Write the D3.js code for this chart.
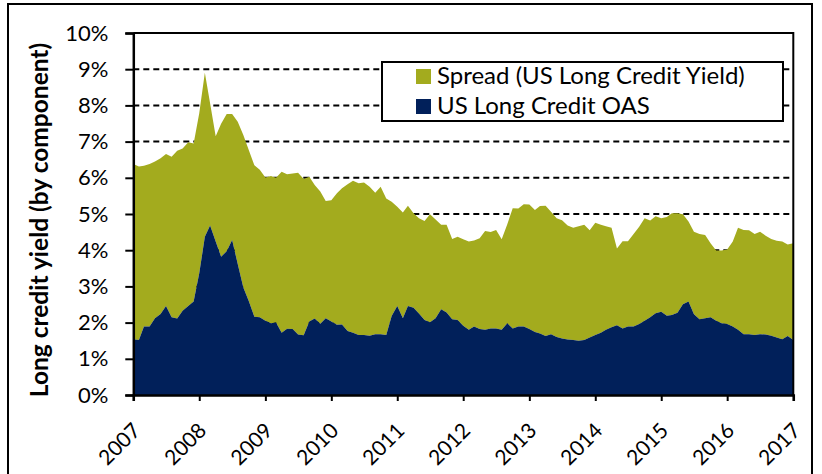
<!DOCTYPE html>
<html>
<head>
<meta charset="utf-8">
<script src="https://cdn.jsdelivr.net/npm/d3@7"></script>
<style>
  body { margin: 0; background: #fff; }
  svg { display: block; }
  text { font-family: Lato, "Open Sans", sans-serif; fill: #000; }
</style>
</head>
<body>
<svg id="chart" width="822" height="474"></svg>
<script>
// Monthly observations, January 2007 through January 2017 (percent)
const startDate = new Date(Date.UTC(2007, 0, 1));
const longCreditYield = [
  6.38, 6.31, 6.33, 6.38, 6.45, 6.54, 6.66, 6.58, 6.75, 6.81, 6.98, 6.95,
  7.78, 8.90, 8.06, 7.15, 7.49, 7.76, 7.76, 7.55, 7.18, 6.77, 6.35, 6.22,
  6.01, 6.05, 6.00, 6.17, 6.10, 6.12, 6.14, 5.97, 6.03, 5.80, 5.62, 5.36,
  5.38, 5.57, 5.71, 5.82, 5.92, 5.85, 5.87, 5.75, 5.59, 5.75, 5.43, 5.34,
  5.20, 5.04, 5.23, 5.02, 4.88, 4.81, 4.99, 4.85, 4.70, 4.70, 4.31, 4.37,
  4.30, 4.24, 4.27, 4.33, 4.53, 4.50, 4.56, 4.30, 4.72, 5.16, 5.15, 5.27,
  5.26, 5.11, 5.22, 5.23, 5.06, 4.88, 4.83, 4.68, 4.62, 4.66, 4.70, 4.55,
  4.76, 4.70, 4.66, 4.62, 4.05, 4.25, 4.25, 4.45, 4.65, 4.88, 4.82, 4.94,
  4.88, 4.92, 5.02, 5.02, 4.99, 4.79, 4.51, 4.45, 4.42, 4.19, 3.99, 3.99,
  4.02, 4.24, 4.62, 4.56, 4.55, 4.45, 4.51, 4.40, 4.31, 4.26, 4.24, 4.16,
  4.19
];
const longCreditOAS = [
  1.54, 1.52, 1.89, 1.89, 2.12, 2.24, 2.46, 2.15, 2.11, 2.33, 2.46, 2.58,
  3.36, 4.37, 4.68, 4.24, 3.82, 3.97, 4.28, 3.62, 2.97, 2.60, 2.16, 2.15,
  2.05, 1.98, 2.00, 1.72, 1.83, 1.82, 1.67, 1.65, 2.03, 2.11, 1.97, 2.12,
  2.03, 1.94, 1.95, 1.77, 1.72, 1.66, 1.66, 1.64, 1.68, 1.68, 1.66, 2.18,
  2.46, 2.12, 2.46, 2.41, 2.25, 2.07, 2.01, 2.12, 2.37, 2.28, 2.09, 2.07,
  1.91, 1.80, 1.89, 1.82, 1.80, 1.84, 1.84, 1.80, 1.98, 1.84, 1.89, 1.89,
  1.82, 1.74, 1.70, 1.63, 1.68, 1.60, 1.56, 1.53, 1.52, 1.50, 1.52, 1.59,
  1.66, 1.72, 1.80, 1.87, 1.93, 1.84, 1.89, 1.89, 1.96, 2.05, 2.15, 2.26,
  2.30, 2.19, 2.21, 2.27, 2.51, 2.58, 2.23, 2.09, 2.12, 2.15, 2.05, 1.98,
  1.96, 1.89, 1.80, 1.68, 1.68, 1.66, 1.68, 1.67, 1.64, 1.59, 1.54, 1.63,
  1.52
];
const yearTicks = [2007, 2008, 2009, 2010, 2011, 2012, 2013, 2014, 2015, 2016, 2017];
const percentTicks = [0, 1, 2, 3, 4, 5, 6, 7, 8, 9, 10];
const gridTicks = [1, 2, 3, 4, 5, 6, 7, 8, 9];
const seriesLabels = ["Spread (US Long Credit Yield)", "US Long Credit OAS"];
const axisTitle = "Long credit yield (by component)";

const GREEN = "#a3ab1e";
const NAVY = "#01205a";

const svg = d3.select("#chart");
const plot = { left: 133.3, right: 793.3, top: 33, bottom: 395 };

const rows = longCreditYield.map((v, i) => ({
  date: d3.utcMonth.offset(startDate, i),
  total: v,
  oas: longCreditOAS[i]
}));

const x = d3.scaleUtc()
  .domain([Date.UTC(2007, 0, 1), Date.UTC(2017, 0, 1)])
  .range([plot.left, plot.right]);
const y = d3.scaleLinear().domain([0, 10]).range([plot.bottom, plot.top]);

// outer frame
svg.append("rect")
  .attr("x", 8).attr("y", 4).attr("width", 804).attr("height", 480)
  .attr("fill", "none").attr("stroke", "#000").attr("stroke-width", 2);

// dashed gridlines, drawn beneath the areas
svg.append("g")
  .selectAll("line").data(gridTicks).join("line")
  .attr("x1", plot.left).attr("x2", plot.right)
  .attr("y1", d => y(d)).attr("y2", d => y(d))
  .attr("stroke", "#000").attr("stroke-width", 2)
  .attr("stroke-dasharray", "6,4");

// stacked areas: OAS at the base, remainder of the yield above it
const areaOAS = d3.area()
  .x(d => x(d.date)).y0(y(0)).y1(d => y(d.oas));
const areaSpread = d3.area()
  .x(d => x(d.date)).y0(d => y(d.oas)).y1(d => y(d.total));

svg.append("path").datum(rows).attr("d", areaSpread).attr("fill", GREEN);
svg.append("path").datum(rows).attr("d", areaOAS).attr("fill", NAVY);

// plot border (top and right)
svg.append("path")
  .attr("d", `M${plot.left},${plot.top}H${plot.right}V${plot.bottom}`)
  .attr("fill", "none").attr("stroke", "#000").attr("stroke-width", 2);

// y axis
const yAxis = svg.append("g")
  .attr("transform", `translate(${plot.left},0)`)
  .call(d3.axisLeft(y).tickValues(percentTicks).tickSize(8).tickPadding(17)
    .tickFormat(d => d + "%"));
yAxis.select(".domain").attr("stroke", "#000").attr("stroke-width", 2.5);
yAxis.selectAll(".tick line").attr("stroke", "#000").attr("stroke-width", 2);
yAxis.selectAll(".tick text")
  .style("font-family", "Lato, sans-serif").attr("font-size", 22);

// x axis
const yearDates = yearTicks.map(yr => new Date(Date.UTC(yr, 0, 1)));
const xAxis = svg.append("g")
  .attr("transform", `translate(0,${plot.bottom})`)
  .call(d3.axisBottom(x).tickValues(yearDates).tickSize(6)
    .tickFormat(d => d.getUTCFullYear()));
xAxis.select(".domain").attr("stroke", "#000").attr("stroke-width", 2.5);
xAxis.selectAll(".tick line").attr("stroke", "#000").attr("stroke-width", 2);
xAxis.selectAll(".tick text")
  .style("font-family", "Lato, sans-serif").attr("font-size", 21)
  .attr("text-anchor", "end")
  .attr("dy", 0).attr("y", 0)
  .attr("transform", "translate(8,37) rotate(-45)");

// axis title
svg.append("text")
  .attr("transform", "translate(48,220) rotate(-90)")
  .attr("text-anchor", "middle")
  .attr("font-size", 24.5).attr("font-weight", "bold")
  .text(axisTitle);

// legend
const legend = svg.append("g");
legend.append("rect")
  .attr("x", 382).attr("y", 62).attr("width", 401).attr("height", 59)
  .attr("fill", "#fff").attr("stroke", "#000").attr("stroke-width", 2);
const items = legend.selectAll("g.item").data(seriesLabels).join("g")
  .attr("class", "item")
  .attr("transform", (d, i) => `translate(416,${69 + i * 30})`);
items.append("rect")
  .attr("width", 15).attr("height", 15)
  .attr("fill", (d, i) => i === 0 ? GREEN : NAVY);
items.append("text")
  .attr("x", 21).attr("y", 15)
  .attr("font-size", 24)
  .text(d => d);
</script>
</body>
</html>
